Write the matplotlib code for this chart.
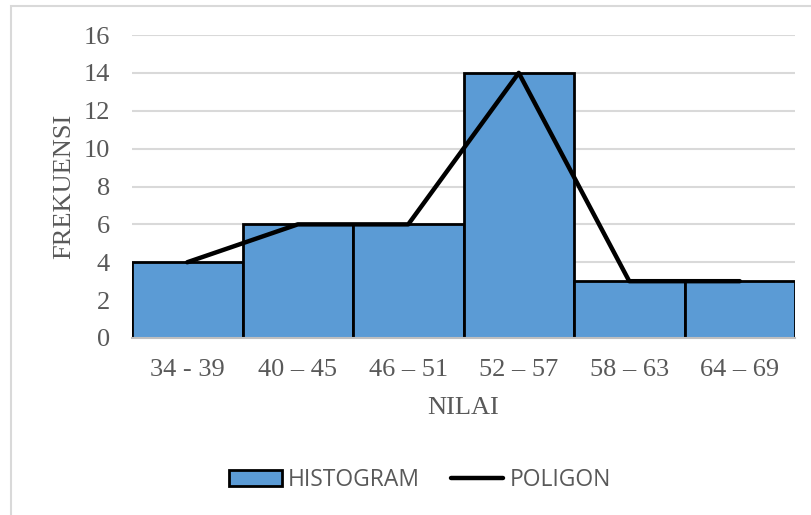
import numpy as np
import matplotlib.pyplot as plt
from matplotlib.patches import Rectangle, Patch
from matplotlib.lines import Line2D

kelas = ["34 - 39", "40 \u2013 45", "46 \u2013 51", "52 \u2013 57", "58 \u2013 63", "64 \u2013 69"]
frekuensi = [4, 6, 6, 14, 3, 3]

fig = plt.figure(figsize=(8.11, 5.15), dpi=100)
ax = fig.add_axes([132 / 811, 1 - 338 / 515, 663 / 811, 303 / 515])

# outer chart frame (only the left and top edges fall inside the image)
fig.patches.append(Rectangle((10.5 / 811, -0.1), 1.2, 1 - 5.5 / 515 + 0.1,
                             transform=fig.transFigure, fill=False,
                             edgecolor="#d9d9d9", linewidth=1.5, zorder=0))

x = np.arange(len(kelas))
ax.bar(x, frekuensi, width=1.0, color="#5b9bd5", edgecolor="black",
       linewidth=2, zorder=2)
ax.plot(x, frekuensi, color="black", linewidth=3.2, solid_capstyle="round",
        zorder=3)

ax.set_xlim(-0.5, len(kelas) - 0.5)
ax.set_ylim(0, 16)
ax.set_yticks(range(0, 17, 2))
ax.set_xticks(x)
ax.set_xticklabels(kelas)
ax.yaxis.grid(True, color="#d9d9d9", linewidth=1.5, zorder=0)
ax.set_axisbelow(True)

for s in ["top", "right", "left"]:
    ax.spines[s].set_visible(False)
ax.spines["bottom"].set_color("#bfbfbf")
ax.spines["bottom"].set_linewidth(1.5)

serif = "Liberation Serif"
fs = 19
ax.tick_params(length=0, labelcolor="#595959", labelsize=fs)
ax.tick_params(axis="y", pad=16)
ax.tick_params(axis="x", pad=15)
for lab in ax.get_xticklabels() + ax.get_yticklabels():
    lab.set_fontfamily(serif)

ax.set_xlabel("NILAI", fontfamily=serif, fontsize=fs, color="#595959",
              labelpad=12)
ax.set_ylabel("FREKUENSI", fontfamily=serif, fontsize=fs, color="#595959",
              labelpad=6)

handles = [Patch(facecolor="#5b9bd5", edgecolor="black", linewidth=2),
           Line2D([0], [0], color="black", linewidth=3.2, solid_capstyle="round")]
leg = fig.legend(handles, ["HISTOGRAM", "POLIGON"], loc="center",
                 bbox_to_anchor=(420 / 811, 1 - 480 / 515), ncol=2,
                 frameon=False, handlelength=2.3, handleheight=0.7,
                 handletextpad=0.26, columnspacing=1.35,
                 prop={"family": "Open Sans", "size": 16.5})
for t in leg.get_texts():
    t.set_color("#595959")

fig.savefig("out.png", dpi=100)
